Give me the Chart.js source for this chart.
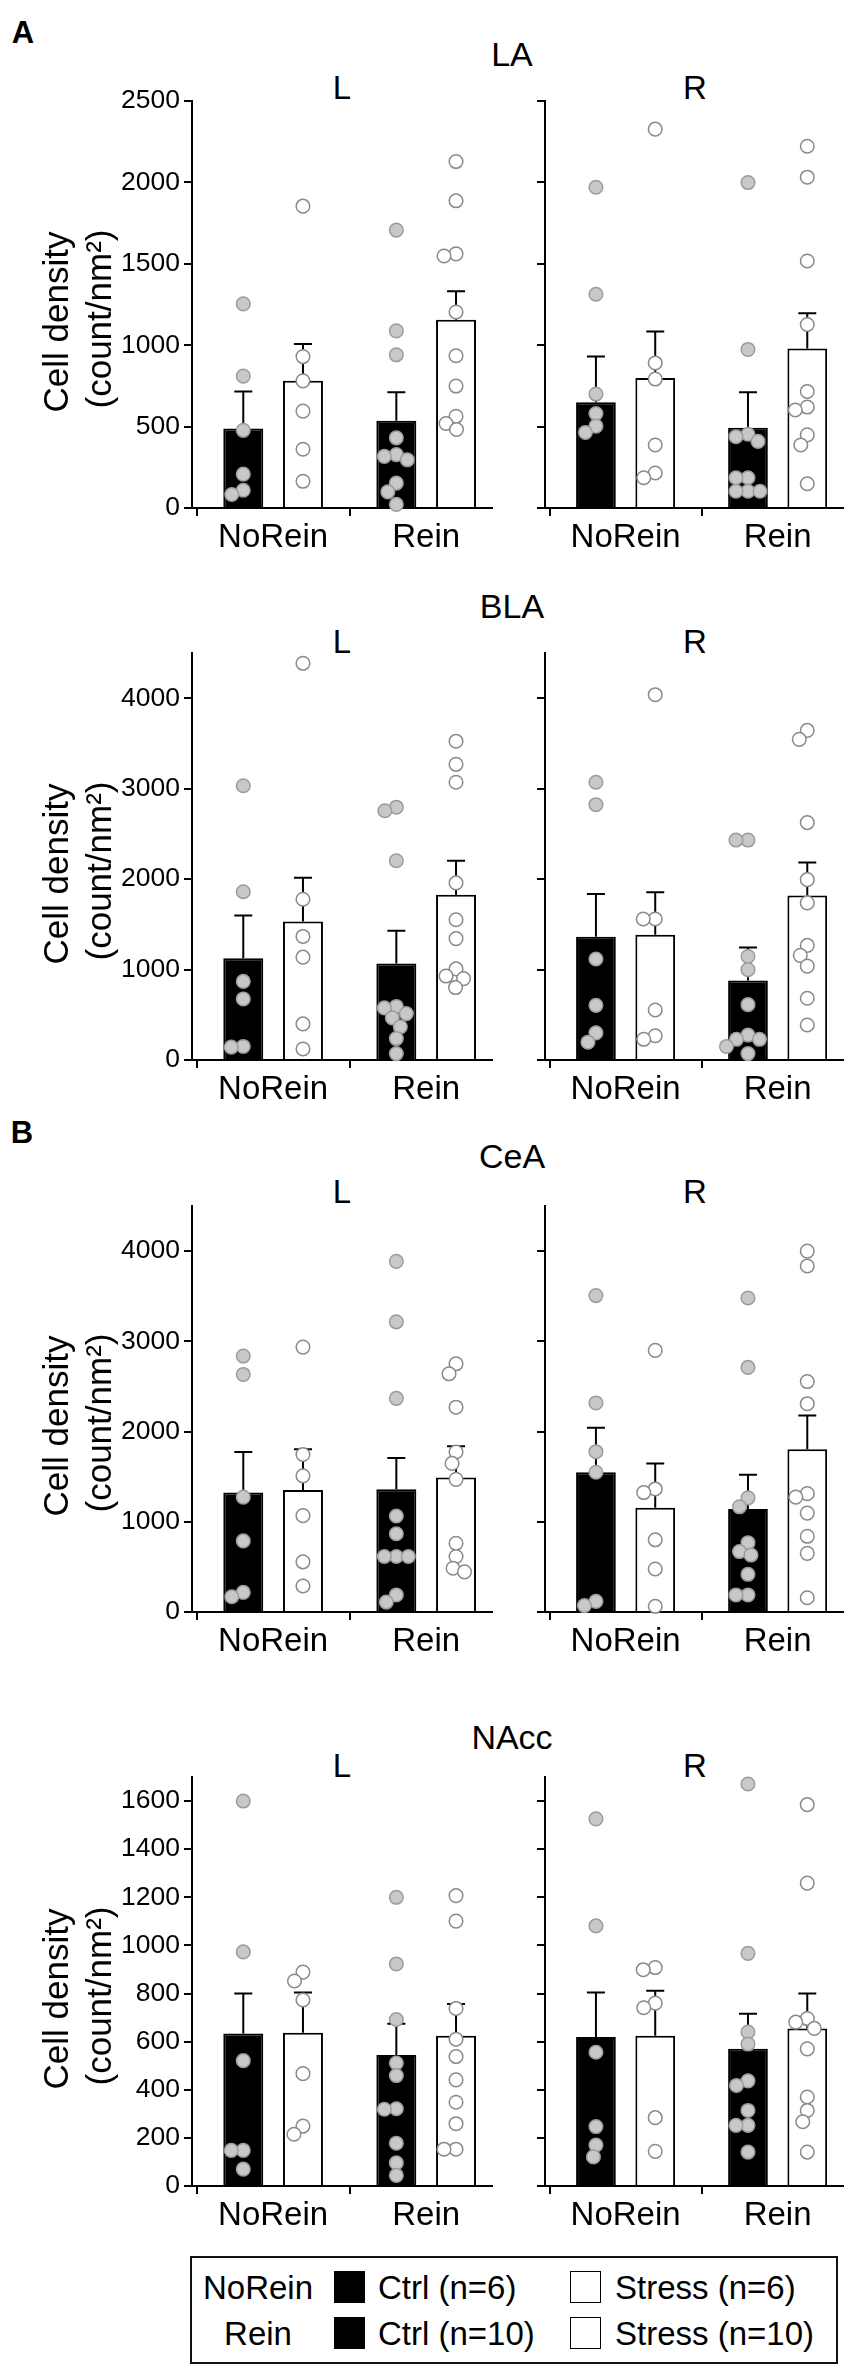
<!DOCTYPE html>
<html>
<head>
<meta charset="utf-8">
<script src="https://cdn.jsdelivr.net/npm/chart.js@4.4.0/dist/chart.umd.min.js"></script>
<style>
body { margin: 0; background: #fff; }
#page { position: relative; width: 851px; height: 2375px; overflow: hidden; font-family: 'Liberation Sans', Arial, sans-serif; color: #000; }
.txt { position: absolute; transform: translate(-50%, -50%); white-space: nowrap; line-height: 1; }
.rot { position: absolute; transform: translate(-50%, -50%) rotate(-90deg); white-space: nowrap; line-height: 1; font-size: 35px; }
.lbl { position: absolute; white-space: nowrap; line-height: 1; transform: translateY(-50%); }
canvas { position: absolute; }
#legend { position: absolute; left: 190px; top: 2256px; width: 644px; height: 104px; border: 2px solid #111; font-size: 33px; }
.sq { position: absolute; width: 31px; height: 32px; transform: translateY(-50%); box-sizing: border-box; border: 1.5px solid #000; }
</style>
</head>
<body>
<div id="page"></div>
<script>
'use strict';
// global data
var groups = ['NoRein', 'Rein'];
var sides = ['L', 'R'];
var regions = ['LA', 'BLA', 'CeA', 'NAcc'];
var yMax = [2500, 4500, 4500, 1700];
var yTicksLA = [0, 500, 1000, 1500, 2000, 2500];
var yTicksBLA = [0, 1000, 2000, 3000, 4000];
var yTicksCeA = [0, 1000, 2000, 3000, 4000];
var yTicksNAcc = [0, 200, 400, 600, 800, 1000, 1200, 1400, 1600];

// LA  (each array: [L, R], inside [NoRein, Rein])
var laCtrlMean = [[488, 536], [650, 493]];
var laCtrlSem = [[228, 175], [280, 218]];
var laStressMean = [[781, 1156], [799, 979]];
var laStressSem = [[226, 175], [285, 218]];
var laCtrlPts = [
  [[1254, 810, 477, 208, 109, 83], [1707, 1088, 941, 431, 328, 317, 296, 153, 99, 22]],
  [[1970, 1313, 700, 580, 503, 464], [1999, 974, 453, 438, 409, 186, 186, 103, 103, 103]]
];
var laStressPts = [
  [[1854, 930, 781, 595, 361, 164], [2128, 1887, 1561, 1548, 1204, 935, 749, 563, 519, 482]],
  [[2327, 891, 792, 387, 215, 186], [2222, 2032, 1517, 1127, 716, 620, 602, 449, 387, 149]]
];

// BLA
var blaCtrlMean = [[1125, 1066], [1362, 880]];
var blaCtrlSem = [[474, 363], [474, 364]];
var blaStressMean = [[1532, 1828], [1386, 1820]];
var blaStressSem = [[482, 375], [469, 363]];
var blaCtrlPts = [
  [[3032, 1860, 869, 675, 150, 142], [2795, 2756, 2203, 592, 576, 513, 466, 367, 237, 71]],
  [[3071, 2823, 1117, 604, 300, 197], [2432, 2432, 1145, 999, 612, 276, 229, 229, 150, 71]]
];
var blaStressPts = [
  [[4386, 1777, 1366, 1137, 399, 122], [3525, 3269, 3071, 1958, 1551, 1342, 1007, 928, 900, 801]],
  [[4039, 1559, 1559, 553, 268, 229], [3644, 3545, 2625, 1994, 1737, 1267, 1157, 1038, 683, 387]]
];

// CeA
var ceaCtrlMean = [[1324, 1360], [1549, 1143]];
var ceaCtrlSem = [[449, 346], [492, 378]];
var ceaStressMean = [[1352, 1490], [1155, 1805]];
var ceaStressSem = [[453, 346], [492, 374]];
var ceaCtrlPts = [
  [[2837, 2633, 1273, 788, 217, 169], [3886, 3216, 2368, 1064, 867, 615, 615, 615, 189, 110]],
  [[3507, 2317, 1777, 1549, 118, 71], [3480, 2711, 1265, 1166, 768, 670, 631, 418, 189, 189]]
];
var ceaStressPts = [
  [[2936, 1746, 1509, 1068, 556, 288], [2751, 2640, 2270, 1773, 1647, 1470, 761, 615, 485, 445]],
  [[2900, 1364, 1324, 800, 477, 63], [4000, 3835, 2554, 2309, 1312, 1273, 1096, 839, 650, 158]]
];

// NAcc
var naccCtrlMean = [[634, 545], [619, 570]];
var naccCtrlSem = [[166, 129], [185, 146]];
var naccStressMean = [[637, 625], [625, 655]];
var naccStressSem = [[167, 131], [187, 145]];
var naccCtrlPts = [
  [[1600, 973, 521, 148, 148, 70], [1200, 923, 692, 511, 459, 321, 319, 178, 96, 44]],
  [[1526, 1081, 556, 247, 170, 121], [1671, 967, 640, 590, 437, 418, 314, 252, 252, 141]]
];
var naccStressPts = [
  [[889, 852, 773, 467, 249, 215], [1207, 1101, 738, 610, 538, 441, 348, 259, 153, 153]],
  [[908, 899, 760, 741, 284, 144], [1585, 1259, 696, 681, 655, 570, 370, 314, 267, 141]]
];

var legendRows = ['NoRein', 'Rein'];
var legendCtrl = ['Ctrl (n=6)', 'Ctrl (n=10)'];
var legendStress = ['Stress (n=6)', 'Stress (n=10)'];

// layout (pixels)
var page = document.getElementById('page');
var panelTop = [101, 653, 1206, 1777];
var panelZero = [508, 1060, 1612, 2186];
var titleY = [54, 606, 1156, 1737];
var sideY = [87, 641, 1191, 1765];
var FONT = "'Liberation Sans', Arial, sans-serif";

var allData = [
  [laCtrlMean, laCtrlSem, laStressMean, laStressSem, laCtrlPts, laStressPts, yTicksLA],
  [blaCtrlMean, blaCtrlSem, blaStressMean, blaStressSem, blaCtrlPts, blaStressPts, yTicksBLA],
  [ceaCtrlMean, ceaCtrlSem, ceaStressMean, ceaStressSem, ceaCtrlPts, ceaStressPts, yTicksCeA],
  [naccCtrlMean, naccCtrlSem, naccStressMean, naccStressSem, naccCtrlPts, naccStressPts, yTicksNAcc]
];

function addText(str, x, y, size, bold, cls) {
  var el = document.createElement('div');
  el.className = cls || 'txt';
  el.textContent = str;
  el.style.left = x + 'px';
  el.style.top = y + 'px';
  if (size) { el.style.fontSize = size + 'px'; }
  if (bold) { el.style.fontWeight = 'bold'; }
  page.appendChild(el);
}

// spreads points sideways so they do not overlap (beeswarm)
function swarm(ys, minDist) {
  var placed = [];
  var xs = [];
  var order = ys.map(function(y, i) { return i; });
  order.sort(function(a, b) { return ys[a] - ys[b]; });
  order.forEach(function(i) {
    var y = ys[i];
    var best = 0;
    for (var k = 0; k < 400; k++) {
      var cand = (k % 2 === 0 ? 1 : -1) * Math.ceil(k / 2) * 0.5;
      var ok = placed.every(function(p) {
        var dx = p.x - cand;
        var dy = p.y - y;
        return dx * dx + dy * dy >= minDist * minDist;
      });
      if (ok) { best = cand; break; }
    }
    placed.push({x: best, y: y});
    xs[i] = best;
  });
  return xs;
}

// draws the upper error bar and the individual dots on each bar
function makeOverlay(sems, pts) {
  return {
    id: 'overlay',
    afterDatasetsDraw: function(chart) {
      var ctx = chart.ctx;
      var yScale = chart.scales.y;
      var r = 6.8;
      for (var d = 0; d < 2; d++) {
        var meta = chart.getDatasetMeta(d);
        meta.data.forEach(function(bar, j) {
          var mean = chart.data.datasets[d].data[j].y;
          var top = yScale.getPixelForValue(mean + sems[d][j]);
          ctx.save();
          ctx.strokeStyle = '#000';
          ctx.lineWidth = 2;
          ctx.beginPath();
          ctx.moveTo(bar.x, bar.y);
          ctx.lineTo(bar.x, top);
          ctx.moveTo(bar.x - 9, top);
          ctx.lineTo(bar.x + 9, top);
          ctx.stroke();
          ctx.restore();
        });
      }
      for (var e = 0; e < 2; e++) {
        var meta2 = chart.getDatasetMeta(e);
        meta2.data.forEach(function(bar, j) {
          var ys = pts[e][j].map(function(v) { return yScale.getPixelForValue(v); });
          var xs = swarm(ys, 12);
          ctx.save();
          ctx.lineWidth = 1.5;
          ctx.fillStyle = e === 0 ? '#c8c8c8' : '#ffffff';
          ctx.strokeStyle = e === 0 ? '#9c9c9c' : '#8a8a8a';
          ys.forEach(function(y, k) {
            ctx.beginPath();
            ctx.arc(bar.x + xs[k], y, r, 0, Math.PI * 2);
            ctx.fill();
            ctx.stroke();
          });
          ctx.restore();
        });
      }
    }
  };
}

function makePanel(ri, si) {
  var set = allData[ri];
  var isLeft = si === 0;
  var x0 = isLeft ? 0 : 505;
  var w = isLeft ? 505 : 346;
  var axisX = isLeft ? 192 : 545;
  var right = isLeft ? 492 : 843;
  var padTop = 24;
  var xH = 54;
  var top = panelTop[ri] - padTop;
  var h = panelZero[ri] - top + xH;

  var canvas = document.createElement('canvas');
  canvas.width = w;
  canvas.height = h;
  canvas.style.left = x0 + 'px';
  canvas.style.top = top + 'px';
  canvas.style.width = w + 'px';
  canvas.style.height = h + 'px';
  page.appendChild(canvas);

  var ticks = set[6];
  var ctrlData = groups.map(function(g, i) { return {x: i, y: set[0][si][i]}; });
  var stressData = groups.map(function(g, i) { return {x: i, y: set[2][si][i]}; });

  new Chart(canvas.getContext('2d'), {
    type: 'bar',
    data: {
      datasets: [
        { label: 'Ctrl', data: ctrlData, backgroundColor: '#000', borderColor: '#000', borderWidth: 2 },
        { label: 'Stress', data: stressData, backgroundColor: '#fff', borderColor: '#000', borderWidth: 2 }
      ]
    },
    options: {
      responsive: false,
      animation: false,
      devicePixelRatio: 1,
      categoryPercentage: 0.78,
      barPercentage: 0.67,
      layout: { padding: { top: padTop, right: w - (right - x0), left: 0, bottom: 0 } },
      plugins: { legend: { display: false }, tooltip: { enabled: false } },
      scales: {
        x: {
          type: 'linear',
          offset: false,
          min: -0.53,
          max: 1.43,
          afterBuildTicks: function(scale) {
            scale.ticks = groups.map(function(g, i) { return {value: i}; });
          },
          afterFit: function(scale) { scale.height = xH; },
          ticks: {
            color: '#000',
            padding: 2,
            font: { family: FONT, size: 33 },
            maxRotation: 0,
            callback: function(v) { return groups[v]; }
          },
          grid: { display: true, drawOnChartArea: false, drawTicks: true, tickLength: 8, color: '#000', lineWidth: 2 },
          border: { display: true, color: '#000', width: 2 }
        },
        y: {
          type: 'linear',
          min: 0,
          max: yMax[ri],
          afterBuildTicks: function(scale) {
            scale.ticks = ticks.map(function(v) { return {value: v}; });
          },
          afterFit: function(scale) { scale.width = axisX - x0; },
          ticks: {
            display: isLeft,
            color: '#000',
            padding: 4,
            font: { family: FONT, size: 26.5 },
            callback: function(v) { return String(v); }
          },
          grid: { display: true, drawOnChartArea: false, drawTicks: true, tickLength: 8, color: '#000', lineWidth: 2 },
          border: { display: true, color: '#000', width: 2 }
        }
      }
    },
    plugins: [makeOverlay([set[1][si], set[3][si]], [set[4][si], set[5][si]])]
  });

  // y axis title on the left panels
  if (isLeft) {
    var mid = (panelTop[ri] + panelZero[ri]) / 2;
    addText('Cell density', 55, mid + 17, 0, false, 'rot');
    addText('(count/nm\u00b2)', 98, mid + 14, 0, false, 'rot');
  }
}

// titles
addText('A', 23, 32, 31, true);
addText('B', 22, 1132, 31, true);
regions.forEach(function(name, ri) {
  addText(name, 512, titleY[ri], 34);
  addText(sides[0], 342, sideY[ri], 33);
  addText(sides[1], 695, sideY[ri], 33);
  makePanel(ri, 0);
  makePanel(ri, 1);
});

// legend box
var legend = document.createElement('div');
legend.id = 'legend';
page.appendChild(legend);
var rowY = [29, 75];
legendRows.forEach(function(name, i) {
  var a = document.createElement('div');
  a.className = 'txt';
  a.style.left = '66px';
  a.style.top = rowY[i] + 'px';
  a.textContent = name;
  legend.appendChild(a);
  var s1 = document.createElement('div');
  s1.className = 'sq';
  s1.style.left = '142px';
  s1.style.top = rowY[i] + 'px';
  s1.style.background = '#000';
  legend.appendChild(s1);
  var b = document.createElement('div');
  b.className = 'lbl';
  b.style.left = '186px';
  b.style.top = rowY[i] + 'px';
  b.textContent = legendCtrl[i];
  legend.appendChild(b);
  var s2 = document.createElement('div');
  s2.className = 'sq';
  s2.style.left = '378px';
  s2.style.top = rowY[i] + 'px';
  s2.style.background = '#fff';
  legend.appendChild(s2);
  var c = document.createElement('div');
  c.className = 'lbl';
  c.style.left = '423px';
  c.style.top = rowY[i] + 'px';
  c.textContent = legendStress[i];
  legend.appendChild(c);
});
</script>
</body>
</html>
